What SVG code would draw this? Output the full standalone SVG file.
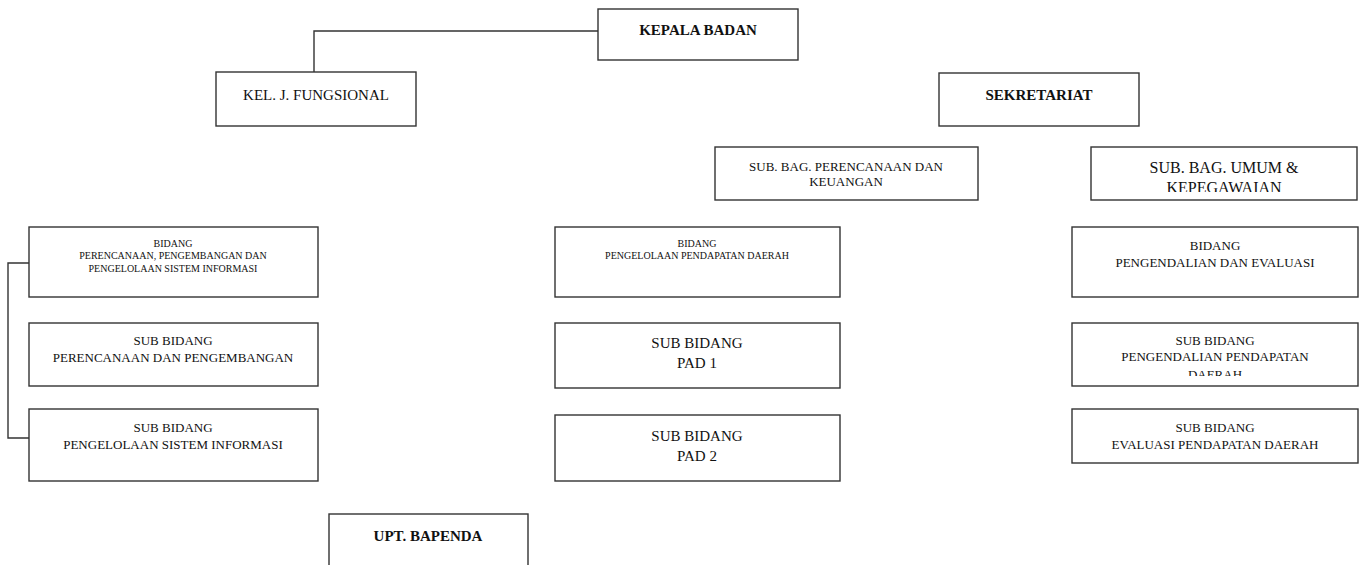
<svg xmlns="http://www.w3.org/2000/svg" width="1365" height="565" viewBox="0 0 1365 565">
<style>
.box{fill:#fff;stroke:#333;stroke-width:1.4}
.t{font-family:"Liberation Serif",serif;fill:#111;text-anchor:middle}
.b{font-weight:bold}
.conn{fill:none;stroke:#333;stroke-width:1.4}
</style>
<defs>
<clipPath id="c1"><rect x="1091" y="147" width="266" height="45"/></clipPath>
<clipPath id="c2"><rect x="1072" y="323" width="286" height="53"/></clipPath>
</defs>
<rect width="1365" height="565" fill="#fff"/>
<g id="connectors">
<polyline class="conn" points="314,72 314,31 598,31"/>
<polyline class="conn" points="29,263 8,263 8,438 29,438"/>
</g>
<g id="kepala"><rect class="box" x="598" y="9" width="200" height="51"/><text class="t b" x="698" y="35" font-size="15">KEPALA BADAN</text></g>
<g id="fungsional"><rect class="box" x="216" y="72" width="200" height="54"/><text class="t" x="316" y="100" font-size="15">KEL. J. FUNGSIONAL</text></g>
<g id="sekretariat"><rect class="box" x="939" y="73" width="200" height="53"/><text class="t b" x="1039" y="100" font-size="15">SEKRETARIAT</text></g>
<g id="subbag-keu"><rect class="box" x="715" y="147" width="263" height="53"/><text class="t" x="846" y="171" font-size="13">SUB. BAG. PERENCANAAN DAN</text><text class="t" x="846" y="186" font-size="13">KEUANGAN</text></g>
<g id="subbag-umum"><rect class="box" x="1091" y="147" width="266" height="53"/><g clip-path="url(#c1)"><text class="t" x="1224" y="173" font-size="16">SUB. BAG. UMUM &amp;</text><text class="t" x="1224" y="193" font-size="16">KEPEGAWAIAN</text></g></g>
<g id="bidang-psi"><rect class="box" x="29" y="227" width="289" height="70"/><text class="t" x="173" y="247" font-size="10">BIDANG</text><text class="t" x="173" y="259" font-size="10">PERENCANAAN, PENGEMBANGAN DAN</text><text class="t" x="173" y="272" font-size="10">PENGELOLAAN SISTEM INFORMASI</text></g>
<g id="sub-perencanaan"><rect class="box" x="29" y="323" width="289" height="63"/><text class="t" x="173" y="345" font-size="13">SUB BIDANG</text><text class="t" x="173" y="362" font-size="13">PERENCANAAN DAN PENGEMBANGAN</text></g>
<g id="sub-psi"><rect class="box" x="29" y="409" width="289" height="72"/><text class="t" x="173" y="432" font-size="13">SUB BIDANG</text><text class="t" x="173" y="449" font-size="13">PENGELOLAAN SISTEM INFORMASI</text></g>
<g id="bidang-pad"><rect class="box" x="555" y="227" width="285" height="70"/><text class="t" x="697" y="247" font-size="10">BIDANG</text><text class="t" x="697" y="259" font-size="10">PENGELOLAAN PENDAPATAN DAERAH</text></g>
<g id="sub-pad1"><rect class="box" x="555" y="323" width="285" height="65"/><text class="t" x="697" y="348" font-size="15">SUB BIDANG</text><text class="t" x="697" y="368" font-size="15">PAD 1</text></g>
<g id="sub-pad2"><rect class="box" x="555" y="415" width="285" height="66"/><text class="t" x="697" y="441" font-size="15">SUB BIDANG</text><text class="t" x="697" y="461" font-size="15">PAD 2</text></g>
<g id="bidang-evaluasi"><rect class="box" x="1072" y="227" width="286" height="70"/><text class="t" x="1215" y="250" font-size="13">BIDANG</text><text class="t" x="1215" y="267" font-size="13">PENGENDALIAN DAN EVALUASI</text></g>
<g id="sub-pengendalian"><rect class="box" x="1072" y="323" width="286" height="63"/><g clip-path="url(#c2)"><text class="t" x="1215" y="345" font-size="13">SUB BIDANG</text><text class="t" x="1215" y="361" font-size="13">PENGENDALIAN PENDAPATAN</text><text class="t" x="1215" y="379" font-size="13">DAERAH</text></g></g>
<g id="sub-evaluasi"><rect class="box" x="1072" y="409" width="286" height="54"/><text class="t" x="1215" y="432" font-size="13">SUB BIDANG</text><text class="t" x="1215" y="449" font-size="13">EVALUASI PENDAPATAN DAERAH</text></g>
<g id="upt"><rect class="box" x="329" y="514" width="199" height="60"/><text class="t b" x="428" y="541" font-size="15">UPT. BAPENDA</text></g>
</svg>
